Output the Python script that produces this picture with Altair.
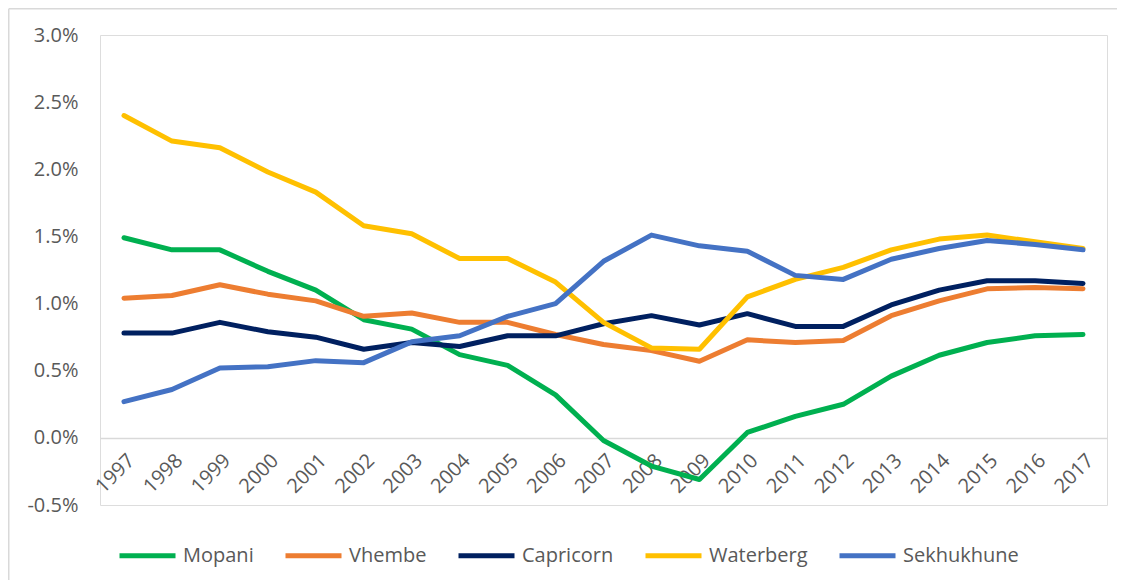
import altair as alt
import pandas as pd

years = ["1997", "1998", "1999", "2000", "2001", "2002", "2003", "2004", "2005", "2006",
         "2007", "2008", "2009", "2010", "2011", "2012", "2013", "2014", "2015", "2016", "2017"]

series_names = ["Mopani", "Vhembe", "Capricorn", "Waterberg", "Sekhukhune"]
series_colors = ["#00B050", "#ED7D31", "#002060", "#FFC000", "#4472C4"]

mopani = [1.49, 1.40, 1.40, 1.24, 1.10, 0.88, 0.81, 0.62, 0.54, 0.32, -0.02,
          -0.21, -0.31, 0.04, 0.16, 0.25, 0.46, 0.615, 0.71, 0.76, 0.77]
vhembe = [1.04, 1.06, 1.14, 1.07, 1.02, 0.905, 0.93, 0.86, 0.86, 0.77, 0.695,
          0.65, 0.57, 0.73, 0.71, 0.725, 0.91, 1.02, 1.11, 1.12, 1.11]
capricorn = [0.78, 0.78, 0.86, 0.79, 0.75, 0.66, 0.71, 0.68, 0.76, 0.76, 0.85,
             0.91, 0.84, 0.925, 0.83, 0.83, 0.99, 1.10, 1.17, 1.17, 1.15]
waterberg = [2.40, 2.21, 2.16, 1.98, 1.83, 1.58, 1.52, 1.335, 1.335, 1.16, 0.86,
             0.67, 0.66, 1.05, 1.18, 1.27, 1.40, 1.48, 1.51, 1.46, 1.41]
sekhukhune = [0.27, 0.36, 0.52, 0.53, 0.575, 0.56, 0.715, 0.76, 0.905, 1.00, 1.315,
              1.51, 1.43, 1.39, 1.21, 1.18, 1.33, 1.41, 1.47, 1.44, 1.40]

y_ticks = [-0.5, 0.0, 0.5, 1.0, 1.5, 2.0, 2.5, 3.0]

rows = []
for name, vals in zip(series_names, [mopani, vhembe, capricorn, waterberg, sekhukhune]):
    for i, (yr, v) in enumerate(zip(years, vals)):
        rows.append({"year": yr, "value": v, "district": name, "order": i})
df = pd.DataFrame(rows)

FONT = "Open Sans"
GRAY = "#595959"

lines = alt.Chart(df).mark_line(strokeWidth=5, strokeCap="round", strokeJoin="round").encode(
    x=alt.X("year:O", sort=years,
            scale=alt.Scale(type="point", padding=0.5),
            axis=alt.Axis(title=None, labelAngle=-45, ticks=False, domain=True,
                          domainColor="#d9d9d9", domainWidth=1.5, offset=-67,
                          labelFont=FONT, labelFontSize=20, labelColor=GRAY,
                          labelPadding=12, grid=False)),
    y=alt.Y("value:Q",
            scale=alt.Scale(domain=[-0.5, 3.0], nice=False, zero=False),
            axis=alt.Axis(title=None, values=y_ticks, ticks=False, domain=False, grid=False,
                          labelExpr="replace(format(datum.value, '.1f'), '\u2212', '-') + '%'",
                          labelFont=FONT, labelFontSize=20, labelColor=GRAY,
                          labelPadding=22)),
    color=alt.Color("district:N",
                    scale=alt.Scale(domain=series_names, range=series_colors),
                    legend=alt.Legend(title=None, orient="none", direction="horizontal",
                                      legendX=17, legendY=490, columns=5,
                                      symbolType="stroke", symbolSize=3136,
                                      symbolStrokeWidth=5, labelOffset=5,
                                      columnPadding=21, padding=0,
                                      labelFont=FONT, labelFontSize=20,
                                      labelColor=GRAY)),
    order=alt.Order("order:Q"),
)

frame_df = pd.DataFrame({"a": [0]})
frame_top = alt.Chart(frame_df).mark_rule(stroke="#d9d9d9", strokeWidth=1.5).encode(
    x=alt.value(-91.25), x2=alt.value(1017), y=alt.value(-26.25),
)
frame_left = alt.Chart(frame_df).mark_rule(stroke="#d9d9d9", strokeWidth=1.5).encode(
    x=alt.value(-91.25), y=alt.value(-26.25), y2=alt.value(545),
)

chart = alt.layer(frame_top, frame_left, lines).properties(
    width=1007, height=470,
    padding={"left": 92, "top": 27, "right": 10, "bottom": 75},
    autosize=alt.AutoSizeParams(type="none"),
).configure_view(strokeWidth=0, stroke="transparent").configure(background="white")

chart.save("out.html", embed_options={"renderer": "svg", "actions": False})
